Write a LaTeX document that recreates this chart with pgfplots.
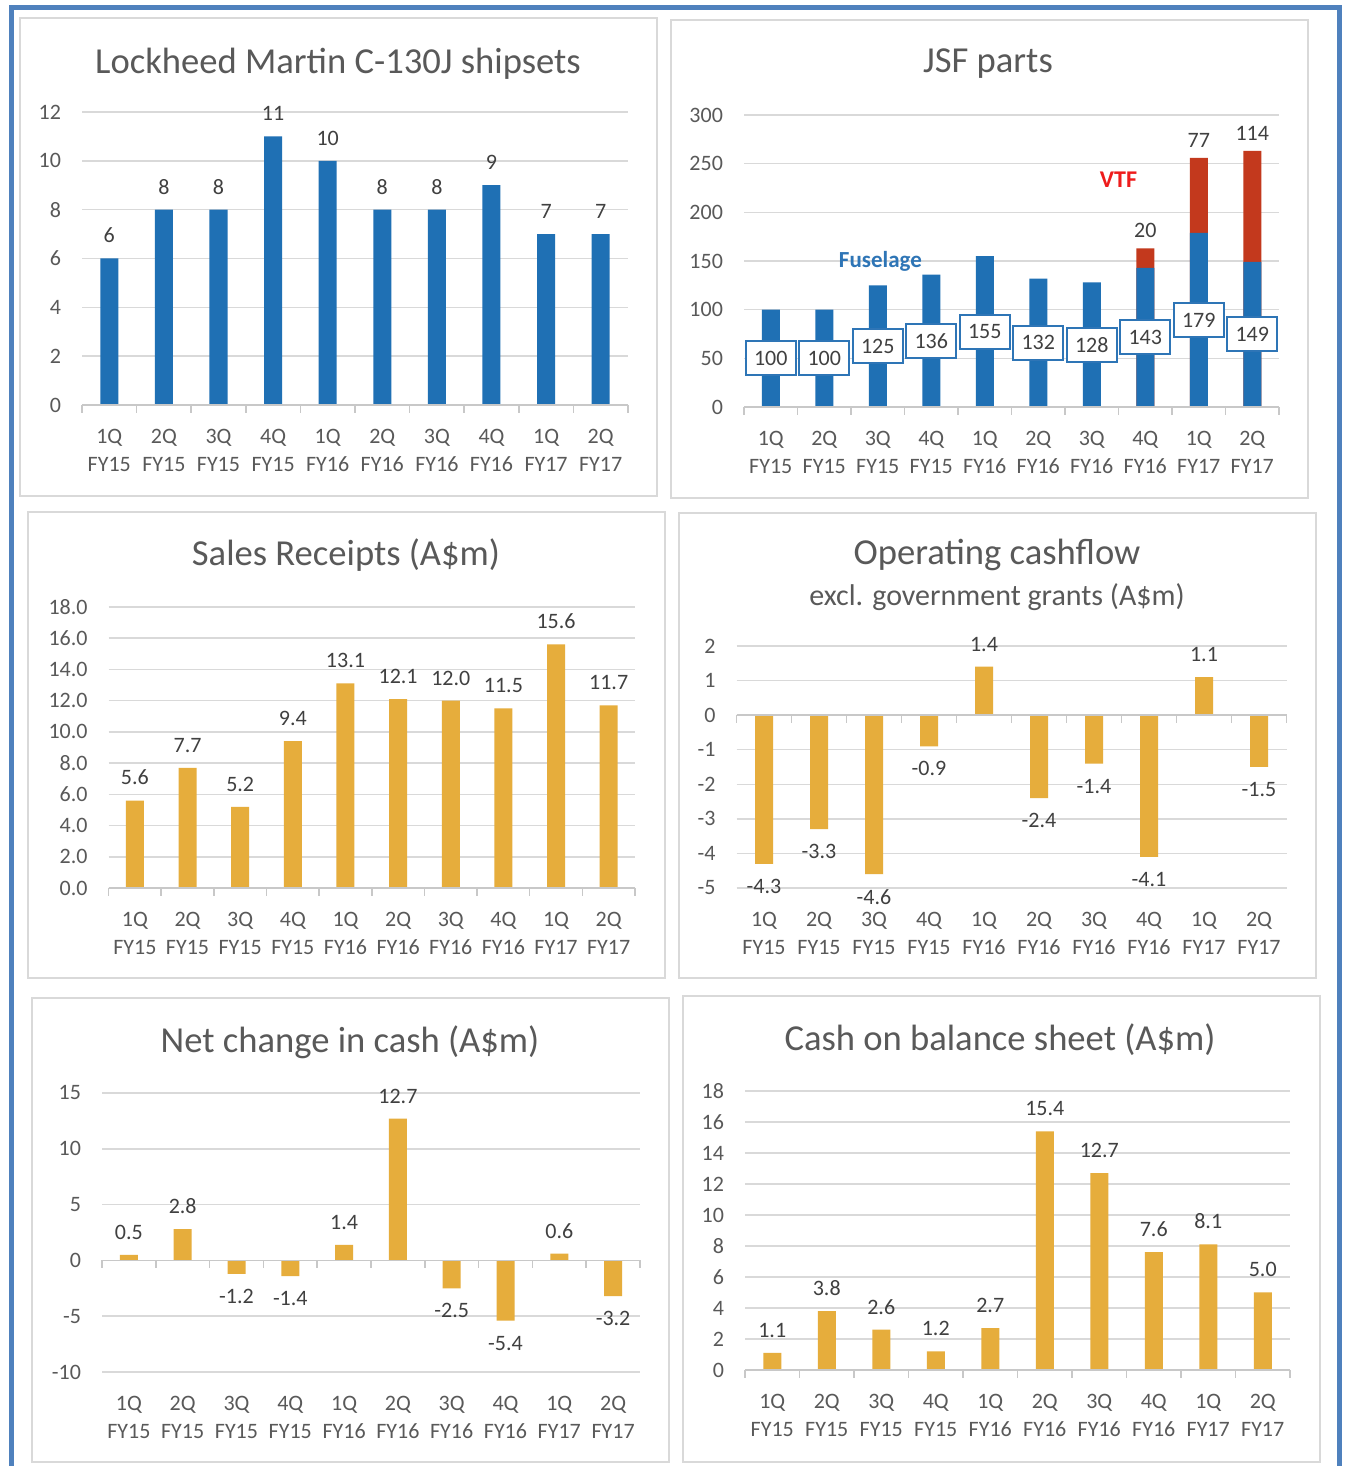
\documentclass[border=0pt]{standalone}
\usepackage{fontspec}
\setmainfont{Carlito}
\usepackage{pgfplots}
\pgfplotsset{compat=1.18}
\definecolor{cblue}{HTML}{1F70B4}
\definecolor{cred}{HTML}{C3391D}
\definecolor{cgold}{HTML}{E6AD3C}
\definecolor{cgrid}{HTML}{D9D9D9}
\definecolor{cbase}{HTML}{C8C8C8}
\definecolor{cframe}{HTML}{D9D9D9}
\definecolor{cout}{HTML}{4F81BD}
\definecolor{ctext}{HTML}{595959}
\definecolor{clbl}{HTML}{404040}
\definecolor{cfus}{HTML}{2E75B6}
\definecolor{cvtf}{HTML}{EE1C1C}
\newcommand{\ticks}{\fontsize{11}{14}\selectfont}
\newcommand{\vals}{\fontsize{11}{13}\selectfont}
\newcommand{\ttl}{\fontsize{18.3}{22}\selectfont}
\newcommand{\zeroline}{%
  \draw[cbase, line width=0.75pt] (axis cs:-0.5,0) -- (axis cs:9.5,0);
  \pgfplotsinvokeforeach{-0.5,0.5,1.5,2.5,3.5,4.5,5.5,6.5,7.5,8.5,9.5}{\draw[cbase, line width=0.75pt] (axis cs:##1,0) -- ++(0pt,-4pt);}%
}
\pgfplotsset{
  panel/.style={
    scale only axis, anchor=south west,
    xmin=-0.5, xmax=9.5, xtick={0,...,9},
    xticklabels={{1Q\\FY15},{2Q\\FY15},{3Q\\FY15},{4Q\\FY15},{1Q\\FY16},{2Q\\FY16},{3Q\\FY16},{4Q\\FY16},{1Q\\FY17},{2Q\\FY17}},
    xticklabel style={align=center, font=\ticks, text=ctext, yshift=-4.5pt},
    yticklabel style={font=\ticks, text=ctext, xshift=-7pt},
    axis line style={draw=none}, tick style={draw=none},
    ymajorgrids, grid style={cgrid, line width=0.75pt},
    /pgf/number format/assume math mode=true,
    clip=false,
  },
  vals/.style={nodes near coords, every node near coord/.append style={font=\vals, text=clbl, inner ysep=7.5pt}},
  dec/.style={nodes near coords={\pgfmathprintnumber[fixed,fixed zerofill,precision=1]{\pgfplotspointmeta}}},
}
\begin{document}
\begin{tikzpicture}
\useasboundingbox (0,0) rectangle (673pt,733pt);
\clip (0,0) rectangle (673pt,733pt);
\fill[white] (0,0) rectangle (673pt,733pt);
\begin{scope}[cframe, line width=1pt]
\draw (10pt,485pt) rectangle (328.5pt,724pt);
\draw (335.5pt,484pt) rectangle (654pt,723pt);
\draw (14pt,244pt) rectangle (332.5pt,477pt);
\draw (339.5pt,244pt) rectangle (658pt,476.5pt);
\draw (16pt,2pt) rectangle (334.5pt,234pt);
\draw (341.5pt,2pt) rectangle (660pt,235pt);
\end{scope}
\draw[cout, line width=2.5pt] (5.5pt,-10pt) -- (5.5pt,729pt) -- (669.5pt,729pt) -- (669.5pt,-10pt);

% titles
\node[font=\ttl, text=ctext] at (169pt,701pt) {Lockheed Martin C-130J shipsets};
\node[font=\ttl, text=ctext] at (494pt,701pt) {JSF parts};
\node[font=\ttl, text=ctext] at (173pt,455.5pt) {Sales Receipts (A\$m)};
\node[font=\ttl, text=ctext] at (498.5pt,455.5pt) {Operating cashflow};
\node[font=\fontsize{15}{18}\selectfont, text=ctext] at (498.5pt,434.5pt) {excl. government grants (A\$m)};
\node[font=\ttl, text=ctext] at (175pt,212pt) {Net change in cash (A\$m)};
\node[font=\ttl, text=ctext] at (500pt,213pt) {Cash on balance sheet (A\$m)};

% C-130J shipsets
\begin{axis}[panel, at={(41pt,530.5pt)}, width=273pt, height=146.5pt,
  ymin=0, ymax=12, ytick={0,2,...,12}, ybar, bar width=9pt, vals]
\addplot[fill=cblue, draw=none] coordinates {(0,6) (1,8) (2,8) (3,11) (4,10) (5,8) (6,8) (7,9) (8,7) (9,7)};
\zeroline
\end{axis}

% JSF parts
\begin{axis}[panel, at={(372pt,529.5pt)}, width=267.5pt, height=146pt,
  ymin=0, ymax=300, ytick={0,50,...,300}, xticklabel style={yshift=-4pt}]
\addplot[ybar, bar width=9pt, bar shift=0pt, fill=cred, draw=none] coordinates {(7,163) (8,256) (9,263)};
\addplot[ybar, bar width=9pt, bar shift=0pt, fill=cblue, draw=none] coordinates {(0,100) (1,100) (2,125) (3,136) (4,155) (5,132) (6,128) (7,143) (8,179) (9,149)};
\addplot[only marks, mark=none, nodes near coords, point meta=explicit symbolic,
  every node near coord/.append style={anchor=center, font=\vals, text=clbl, draw=cfus, line width=1pt, fill=white, minimum width=25pt, minimum height=17pt, inner sep=1pt}]
  coordinates {(0,50)[100] (1,50)[100] (2,62.5)[125] (3,68)[136] (4,77.5)[155] (5,66)[132] (6,64)[128] (7,71.5)[143] (8,89.5)[179] (9,74.5)[149]};
\addplot[only marks, mark=none, nodes near coords, point meta=explicit symbolic,
  every node near coord/.append style={anchor=south, font=\vals, text=clbl, inner ysep=5pt}]
  coordinates {(7,163)[20] (8,256)[77] (9,263)[114]};
\node[font=\fontsize{11.5}{13}\selectfont\bfseries, text=cfus] at (axis cs:2.05,150) {Fuselage};
\node[font=\fontsize{12}{14}\selectfont\bfseries, text=cvtf] at (axis cs:6.5,233) {VTF};
\zeroline
\end{axis}

% Sales receipts
\begin{axis}[panel, at={(54.3pt,289pt)}, width=263.2pt, height=140.5pt,
  ymin=0, ymax=18, ytick={0,2,...,18},
  yticklabel style={/pgf/number format/.cd, fixed, fixed zerofill, precision=1},
  ybar, bar width=9pt, vals, dec]
\addplot[fill=cgold, draw=none] coordinates {(0,5.6) (1,7.7) (2,5.2) (3,9.4) (4,13.1) (5,12.1) (6,12.0) (7,11.5) (8,15.6) (9,11.7)};
\zeroline
\end{axis}

% Operating cashflow
\begin{axis}[panel, at={(368.25pt,289pt)}, width=275pt, height=121pt,
  ymin=-5, ymax=2, ytick={-5,...,2},
  ybar, bar width=9pt, vals, dec]
\addplot[fill=cgold, draw=none] coordinates {(0,-4.3) (1,-3.3) (2,-4.6) (3,-0.9) (4,1.4) (5,-2.4) (6,-1.4) (7,-4.1) (8,1.1) (9,-1.5)};
\zeroline
\end{axis}

% Net change in cash
\begin{axis}[panel, at={(51pt,47pt)}, width=269pt, height=139.5pt,
  ymin=-10, ymax=15, ytick={-10,-5,...,15},
  ybar, bar width=9pt, vals, dec]
\addplot[fill=cgold, draw=none] coordinates {(0,0.5) (1,2.8) (2,-1.2) (3,-1.4) (4,1.4) (5,12.7) (6,-2.5) (7,-5.4) (8,0.6) (9,-3.2)};
\zeroline
\end{axis}

% Cash on balance sheet
\begin{axis}[panel, at={(372.5pt,48pt)}, width=272.5pt, height=139.5pt,
  ymin=0, ymax=18, ytick={0,2,...,18},
  ybar, bar width=9pt, vals, dec]
\addplot[fill=cgold, draw=none] coordinates {(0,1.1) (1,3.8) (2,2.6) (3,1.2) (4,2.7) (5,15.4) (6,12.7) (7,7.6) (8,8.1) (9,5.0)};
\zeroline
\end{axis}
\end{tikzpicture}
\end{document}
